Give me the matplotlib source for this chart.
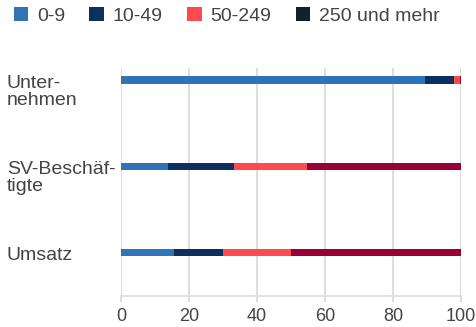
import matplotlib

matplotlib.use("Agg")
import matplotlib.pyplot as plt
from matplotlib.patches import Patch
from matplotlib.transforms import offset_copy

# Anteile nach Betriebsgrößenklasse (in %)
categories = ["Unter-\nnehmen", "SV-Beschäf-\ntigte", "Umsatz"]
classes = ["0-9", "10-49", "50-249", "250 und mehr"]
share_0_9 = [89.4, 13.9, 15.6]
share_10_49 = [8.5, 19.4, 14.3]
share_50_249 = [1.8, 21.3, 20.1]
share_250 = [0.3, 45.4, 50.0]
xticks = [0, 20, 40, 60, 80, 100]

BAR_COLORS = ["#2f74b7", "#0b2f5e", "#ff4a50", "#990036"]
LEGEND_COLORS = ["#2f74b7", "#0b2f5e", "#ff4a50", "#0f2324"]
GRID = "#dddddd"
TEXT = "#444444"

plt.rcParams.update({
    "font.family": ["Liberation Sans", "DejaVu Sans"],
    "font.size": 13.5,
    "text.color": TEXT,
    "xtick.color": GRID,
    "xtick.labelcolor": TEXT,
})

fig = plt.figure(figsize=(4.76, 3.27), dpi=100)
ax = fig.add_axes([0.254, 0.095, 0.7145, 0.697])

series = [share_0_9, share_10_49, share_50_249, share_250]
ypos = list(range(len(categories)))
left = [0.0] * len(categories)
for vals, col in zip(series, BAR_COLORS):
    ax.barh(ypos, vals, left=left, height=0.085, color=col, zorder=3)
    left = [l + v for l, v in zip(left, vals)]

ax.set_xlim(0, 100)
ax.set_ylim(2.5, -0.14)
ax.set_xticks(xticks)
ax.set_yticks([])
ax.tick_params(axis="x", length=4, width=1.5, pad=5, labelsize=13)
ax.grid(axis="x", color=GRID, linewidth=1.5, zorder=0)
for s in ["top", "right", "left"]:
    ax.spines[s].set_visible(False)
ax.spines["bottom"].set_color(GRID)
ax.spines["bottom"].set_linewidth(1.2)

# Kategorienamen links, linksbündig am Bildrand
trans = offset_copy(ax.get_yaxis_transform(), fig=fig, x=0, y=4, units="points")
for y, lab in zip(ypos, categories):
    ax.text(-0.335, y, lab, transform=trans, ha="left", va="top",
            linespacing=1.0, color=TEXT, fontsize=14)

handles = [Patch(facecolor=c, edgecolor="none") for c in LEGEND_COLORS]
fig.legend(handles, classes, loc="upper left", bbox_to_anchor=(0.0, 1.02),
           ncol=4, frameon=False, fontsize=14, handlelength=0.75,
           handleheight=0.75, handletextpad=0.45, columnspacing=1.25,
           borderaxespad=0.3)

fig.savefig("out.png", dpi=100)
